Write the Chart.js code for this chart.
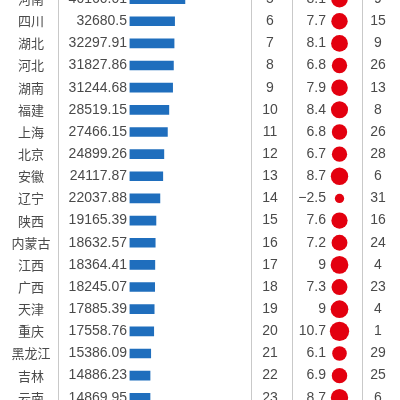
<!DOCTYPE html>
<html>
<head>
<meta charset="utf-8">
<script src="https://cdn.jsdelivr.net/npm/chart.js@4/dist/chart.umd.min.js"></script>
<style>
  html, body { margin: 0; padding: 0; background: #ffffff; }
  #wrap { position: relative; width: 400px; height: 400px; overflow: hidden; background: #fff; }
  #c { position: absolute; left: 0; top: -24px; }
</style>
</head>
<body>
<div id="wrap"><canvas id="c" width="400" height="440"></canvas></div>
<script>
// ---- data ----
const provinces = ['河南','四川','湖北','河北','湖南','福建','上海','北京','安徽','辽宁','陕西','内蒙古','江西','广西','天津','重庆','黑龙江','吉林','云南'];
const gdp = [40160.01, 32680.5, 32297.91, 31827.86, 31244.68, 28519.15, 27466.15, 24899.26, 24117.87, 22037.88, 19165.39, 18632.57, 18364.41, 18245.07, 17885.39, 17558.76, 15386.09, 14886.23, 14869.95];
const gdpRank = [5, 6, 7, 8, 9, 10, 11, 12, 13, 14, 15, 16, 17, 18, 19, 20, 21, 22, 23];
const growth = [8.1, 7.7, 8.1, 6.8, 7.9, 8.4, 6.8, 6.7, 8.7, -2.5, 7.6, 7.2, 9, 7.3, 9, 10.7, 6.1, 6.9, 8.7];
const growthRank = [9, 15, 9, 26, 13, 8, 26, 28, 6, 31, 16, 24, 4, 23, 4, 1, 29, 25, 6];

// ---- layout (pixels) ----
const COL = { name: 31, sep1: 58.5, value: 127, rank: 270, sep2: 251.5, growth: 326, sep3: 292.5, circle: 339.5, sep4: 362.5, grank: 378 };
const AREA_LEFT = 129.5;
const CANVAS_W = 400;
const NUM_FONT = '14px "Liberation Sans", Arial, sans-serif';
const CJK_FONT = '13px "Noto Sans CJK SC", sans-serif';
const TEXT_COLOR = '#4a4a4a';
const LINE_COLOR = '#c9c9c9';

const fmt = v => String(v).replace('-', '\u2212');

const tablePlugin = {
  id: 'tablePlugin',
  beforeDatasetsDraw(chart) {
    const ctx = chart.ctx;
    ctx.save();
    ctx.strokeStyle = LINE_COLOR;
    ctx.lineWidth = 1;
    [COL.sep1, COL.sep2, COL.sep3, COL.sep4].forEach(x => {
      ctx.beginPath();
      ctx.moveTo(x, 0);
      ctx.lineTo(x, chart.height);
      ctx.stroke();
    });
    ctx.restore();
  },
  afterDatasetsDraw(chart) {
    const ctx = chart.ctx;
    const y = chart.scales.y;
    ctx.save();
    ctx.fillStyle = TEXT_COLOR;
    ctx.textBaseline = 'middle';
    provinces.forEach((p, i) => {
      const py = y.getPixelForValue(i);
      ctx.font = CJK_FONT;
      ctx.textAlign = 'center';
      ctx.fillText(p, COL.name, py);
      ctx.font = NUM_FONT;
      ctx.textAlign = 'right';
      ctx.fillText(String(gdp[i]), COL.value, py);
      ctx.textAlign = 'center';
      ctx.fillText(String(gdpRank[i]), COL.rank, py);
      ctx.textAlign = 'right';
      ctx.fillText(fmt(growth[i]), COL.growth, py);
      ctx.textAlign = 'center';
      ctx.fillText(String(growthRank[i]), COL.grank, py);
    });
    ctx.restore();
  }
};

const canvasH = 440;
const rowH = 22.15;
const padTop = 12;
const padBottom = canvasH - padTop - rowH * provinces.length;

new Chart(document.getElementById('c'), {
  type: 'bar',
  data: {
    labels: provinces,
    datasets: [
      {
        type: 'bar',
        data: gdp,
        backgroundColor: '#1f6ebd',
        barThickness: 9,
        xAxisID: 'x',
        yAxisID: 'y'
      },
      {
        type: 'scatter',
        data: growth.map((g, i) => ({ x: COL.circle, y: provinces[i] })),
        xAxisID: 'xc',
        yAxisID: 'y',
        backgroundColor: '#e3000f',
        borderWidth: 0,
        clip: false,
        pointRadius: ctx => 2.95 * Math.sqrt(Math.abs(growth[ctx.dataIndex])),
        pointHoverRadius: ctx => 2.95 * Math.sqrt(Math.abs(growth[ctx.dataIndex]))
      }
    ]
  },
  options: {
    indexAxis: 'y',
    responsive: false,
    devicePixelRatio: 1,
    animation: false,
    layout: { autoPadding: false, padding: { left: AREA_LEFT, right: 0, top: padTop, bottom: padBottom } },
    plugins: { legend: { display: false }, tooltip: { enabled: false } },
    scales: {
      y: { type: 'category', display: false, offset: true },
      x: { type: 'linear', display: false, min: 0, max: 196000 },
      xc: { type: 'linear', axis: 'x', display: false, min: AREA_LEFT, max: CANVAS_W }
    }
  },
  plugins: [tablePlugin]
});
</script>
</body>
</html>
